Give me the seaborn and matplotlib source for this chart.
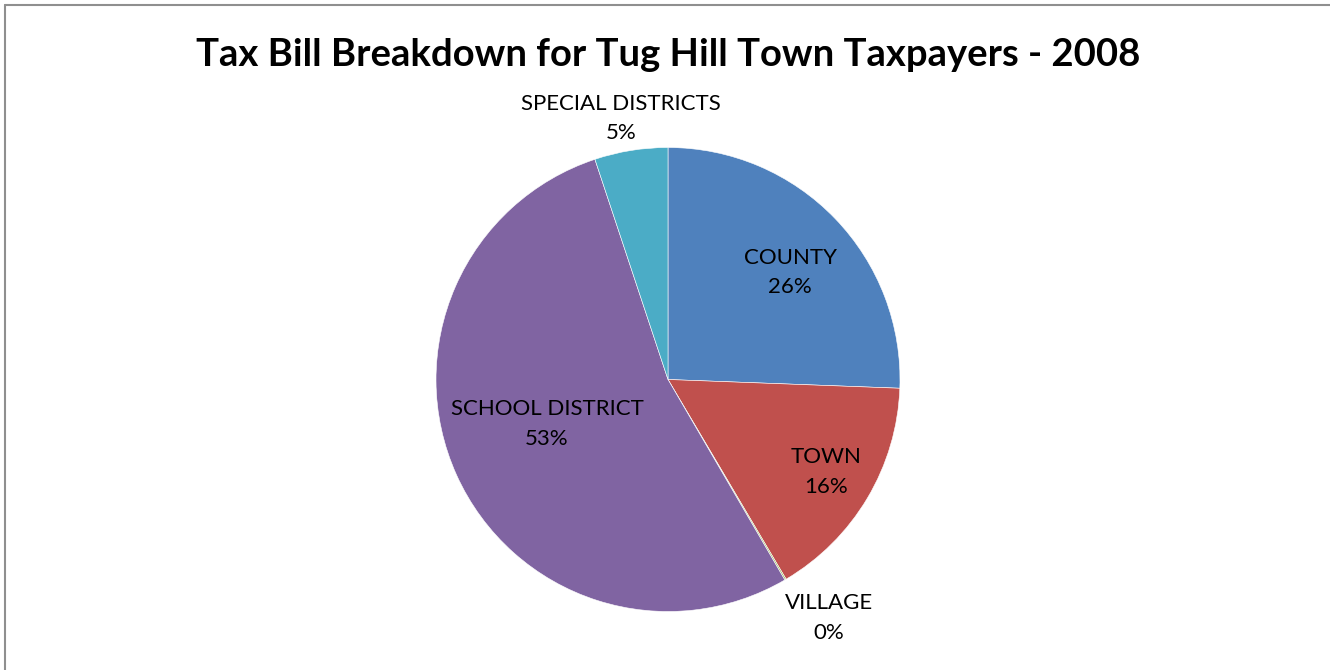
import numpy as np
import matplotlib
matplotlib.use("Agg")
import matplotlib.pyplot as plt
from matplotlib.lines import Line2D
import seaborn as sns

# ---- data ----
categories = ["COUNTY", "TOWN", "VILLAGE", "SCHOOL DISTRICT", "SPECIAL DISTRICTS"]
shares = [25.6, 15.9, 0.1, 53.3, 5.1]
pct_labels = ["26%", "16%", "0%", "53%", "5%"]
title = "Tax Bill Breakdown for Tug Hill Town Taxpayers - 2008"

# ---- style ----
colors = ["#4F81BD", "#C0504D", "#9BBB59", "#8064A2", "#4BACC6"]
label_radius = [0.70, 0.79, 1.24, 0.556, 1.143]
label_nudge_deg = [-2.8, 0.5, 3.6, -4.1, 1.0]

sns.set_theme(style="white")
plt.rcParams["font.family"] = ["Lato", "DejaVu Sans"]

W, H = 1330, 670
cx, cy, R = 668.0, 379.5, 232.0
fig = plt.figure(figsize=(W / 100, H / 100), dpi=100)
ax = fig.add_axes([0, 0, 1, 1])

wedges, _ = ax.pie(shares, colors=colors, startangle=90, counterclock=False,
                   radius=1.0, center=(0, 0),
                   wedgeprops=dict(edgecolor="white", linewidth=0.4))
ax.set_xlim(-cx / R, (W - cx) / R)
ax.set_ylim(-(H - cy) / R, cy / R)
ax.set_aspect("auto")
ax.axis("off")

for w, cat, pl, rf, nd in zip(wedges, categories, pct_labels, label_radius, label_nudge_deg):
    mid = np.deg2rad((w.theta1 + w.theta2) / 2 + nd)
    ax.text(rf * np.cos(mid), rf * np.sin(mid), f"{cat}\n{pl}",
            ha="center", va="center", multialignment="center",
            fontsize=16, color="black", linespacing=1.58)

fig.text(cx / W, 1 - 66 / H, title, ha="center", va="baseline",
         fontsize=27.5, fontweight="bold", color="black")

# chart frame (top and left edges visible)
fig.add_artist(Line2D([5 / W, 1.01], [1 - 5 / H, 1 - 5 / H], transform=fig.transFigure,
                      color="#8f8f8f", linewidth=1.5))
fig.add_artist(Line2D([5 / W, 5 / W], [1 - 5 / H, -0.01], transform=fig.transFigure,
                      color="#8f8f8f", linewidth=1.5))

fig.savefig("out.png", dpi=100, facecolor="white")
